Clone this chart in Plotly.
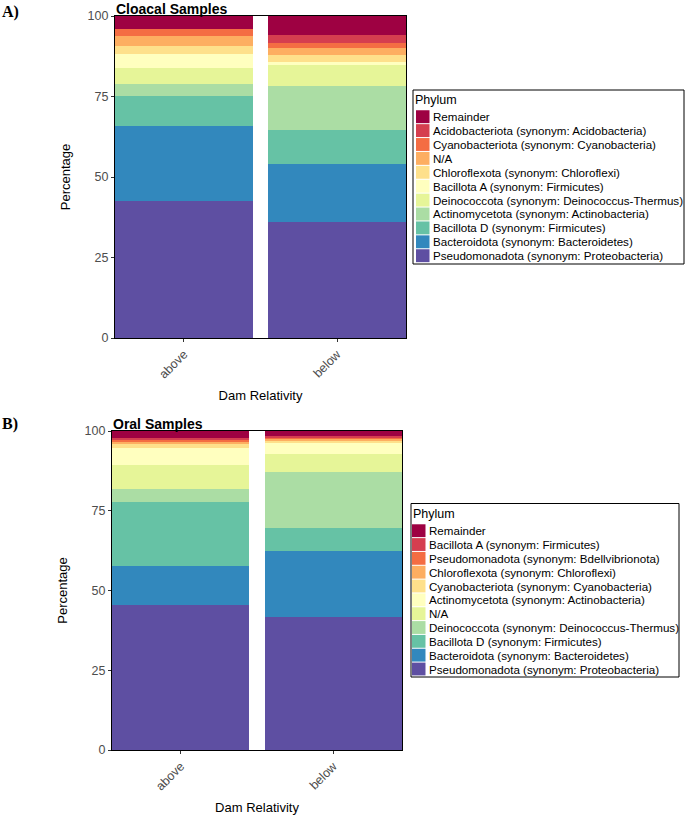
import plotly.graph_objects as go

W, H = 685, 817

categories = ["above", "below"]

# Cloacal samples (bottom -> top of stack)
cloacal_phyla = [
    "Pseudomonadota (synonym: Proteobacteria)",
    "Bacteroidota (synonym: Bacteroidetes)",
    "Bacillota D (synonym: Firmicutes)",
    "Actinomycetota (synonym: Actinobacteria)",
    "Deinococcota (synonym: Deinococcus-Thermus)",
    "Bacillota A (synonym: Firmicutes)",
    "Chloroflexota (synonym: Chloroflexi)",
    "N/A",
    "Cyanobacteriota (synonym: Cyanobacteria)",
    "Acidobacteriota (synonym: Acidobacteria)",
    "Remainder",
]
cloacal_above = [42.5, 23.3, 9.4, 3.7, 4.9, 4.3, 2.7, 3.0, 2.1, 0.0, 4.1]
cloacal_below = [36.0, 18.0, 10.6, 13.8, 6.5, 0.8, 2.2, 2.1, 1.5, 2.6, 5.9]

# Oral samples (bottom -> top of stack)
oral_phyla = [
    "Pseudomonadota (synonym: Proteobacteria)",
    "Bacteroidota (synonym: Bacteroidetes)",
    "Bacillota D (synonym: Firmicutes)",
    "Deinococcota (synonym: Deinococcus-Thermus)",
    "N/A",
    "Actinomycetota (synonym: Actinobacteria)",
    "Cyanobacteriota (synonym: Cyanobacteria)",
    "Chloroflexota (synonym: Chloroflexi)",
    "Pseudomonadota (synonym: Bdellvibrionota)",
    "Bacillota A (synonym: Firmicutes)",
    "Remainder",
]
oral_above = [45.5, 12.3, 19.8, 4.1, 7.6, 5.5, 1.0, 0.8, 0.7, 0.6, 2.1]
oral_below = [41.7, 20.8, 7.0, 17.7, 5.6, 3.3, 0.8, 0.6, 0.5, 0.5, 1.5]

spectral = ["#5E4FA2", "#3288BD", "#66C2A5", "#ABDDA4", "#E6F598", "#FFFFBF",
            "#FEE08B", "#FDAE61", "#F46D43", "#D53E4F", "#9E0142"]

y_ticks = [0, 25, 50, 75, 100]

FONT = "Liberation Sans, Arial, sans-serif"

fig = go.Figure()

for i, name in enumerate(cloacal_phyla):
    fig.add_trace(go.Bar(
        x=categories, y=[cloacal_above[i], cloacal_below[i]], name=name,
        marker=dict(color=spectral[i], line=dict(width=0)),
        xaxis="x", yaxis="y", showlegend=False))

for i, name in enumerate(oral_phyla):
    fig.add_trace(go.Bar(
        x=categories, y=[oral_above[i], oral_below[i]], name=name,
        marker=dict(color=spectral[i], line=dict(width=0)),
        xaxis="x2", yaxis="y2", showlegend=False))


def px_x(p):
    return p / W


def px_y(p):
    return 1 - p / H


tickfont = dict(family=FONT, size=12.5, color="#4D4D4D")
titlefont = dict(family=FONT, size=13, color="#000000")

common_x = dict(type="category", range=[-0.45, 1.45], tickangle=-45, tickfont=tickfont,
                showline=True, linecolor="#000000", linewidth=1.2, mirror=True,
                ticks="outside", ticklen=3, tickcolor="#333333", showgrid=False,
                zeroline=False, title=dict(text="Dam Relativity", font=titlefont, standoff=10))
common_y = dict(range=[0, 100], tickvals=y_ticks, tickfont=tickfont,
                showline=True, linecolor="#000000", linewidth=1.2, mirror=True,
                ticks="outside", ticklen=3, tickcolor="#333333", showgrid=False,
                zeroline=False, title=dict(text="Percentage", font=titlefont, standoff=13))

shapes = []
annotations = []


def build_legend(phyla, left, top, right, bottom, title_y, first_y, step, sw_x0, sw_x1, text_x):
    shapes.append(dict(type="rect", xref="paper", yref="paper",
                       x0=px_x(left), x1=px_x(right), y0=px_y(bottom), y1=px_y(top),
                       line=dict(color="#000000", width=1), fillcolor="#FFFFFF", layer="above"))
    annotations.append(dict(text="Phylum", x=px_x(left + 1), y=px_y(title_y), xref="paper",
                            yref="paper", xanchor="left", yanchor="middle", showarrow=False,
                            borderpad=0,
                            font=dict(family=FONT, size=12.5, color="#000000")))
    n = len(phyla)
    for k in range(n):
        idx = n - 1 - k  # top of legend = top of stack
        cy = first_y + k * step
        shapes.append(dict(type="rect", xref="paper", yref="paper",
                           x0=px_x(sw_x0), x1=px_x(sw_x1),
                           y0=px_y(cy + step / 2 - 0.5), y1=px_y(cy - step / 2 + 0.5),
                           line=dict(width=0), fillcolor=spectral[idx], layer="above"))
        annotations.append(dict(text=phyla[idx], x=px_x(text_x), y=px_y(cy), xref="paper",
                                yref="paper", xanchor="left", yanchor="middle", showarrow=False,
                                borderpad=0,
                                font=dict(family=FONT, size=11.6, color="#000000")))


build_legend(cloacal_phyla, 413, 90, 684, 264, 100.5, 116.7, 13.9, 416, 429.5, 432)
build_legend(oral_phyla, 411, 503.5, 679, 677, 514, 530.7, 13.83, 412, 425.5, 428)

annotations += [
    dict(text="<b>Cloacal Samples</b>", x=px_x(114), y=px_y(-1), xref="paper", yref="paper",
         xanchor="left", yanchor="top", showarrow=False,
         font=dict(family=FONT, size=14, color="#000000")),
    dict(text="<b>Oral Samples</b>", x=px_x(111), y=px_y(414), xref="paper", yref="paper",
         xanchor="left", yanchor="top", showarrow=False,
         font=dict(family=FONT, size=14, color="#000000")),
    dict(text="<b>A)</b>", x=0, y=px_y(1), xref="paper", yref="paper",
         xanchor="left", yanchor="top", showarrow=False,
         font=dict(family="Liberation Serif, Times New Roman, serif", size=16, color="#000000")),
    dict(text="<b>B)</b>", x=0, y=px_y(413), xref="paper", yref="paper",
         xanchor="left", yanchor="top", showarrow=False,
         font=dict(family="Liberation Serif, Times New Roman, serif", size=16, color="#000000")),
]

fig.update_layout(
    width=W, height=H,
    margin=dict(l=0, r=0, t=0, b=0, autoexpand=False),
    paper_bgcolor="#FFFFFF", plot_bgcolor="#FFFFFF",
    barmode="stack", bargap=0.1,
    showlegend=False,
    xaxis=dict(domain=[px_x(115), px_x(406)], anchor="y", **common_x),
    yaxis=dict(domain=[px_y(338), px_y(16)], anchor="x", **common_y),
    xaxis2=dict(domain=[px_x(112), px_x(402)], anchor="y2", **common_x),
    yaxis2=dict(domain=[px_y(750), px_y(431)], anchor="x2", **common_y),
    shapes=shapes,
    annotations=annotations,
)

fig.write_html("out.html")
